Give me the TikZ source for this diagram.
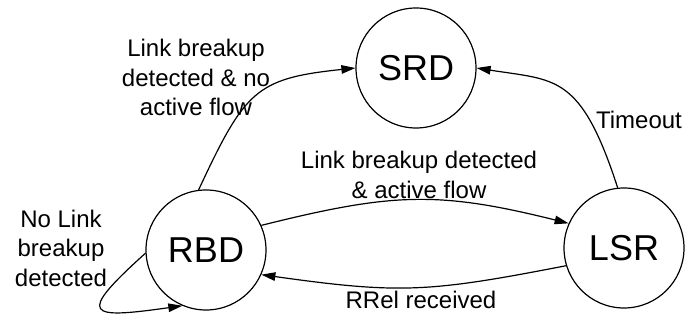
\documentclass[tikz,border=0pt]{standalone}
\usepackage{fontspec}
\setmainfont{Liberation Sans}
\usetikzlibrary{arrows.meta}
\begin{document}
\begin{tikzpicture}[x=1pt,y=1pt,
  state/.style={draw, circle, line width=1.2pt, minimum size=120pt, inner sep=0pt,
    font=\fontsize{36}{40}\selectfont},
  trans/.style={line width=1.2pt, -{Triangle[length=14pt,width=8.5pt]}},
  lbl/.style={align=center, inner sep=0pt, font=\fontsize{24}{29.5}\selectfont}]
\useasboundingbox (0,0) rectangle (685,321);
\fill[white] (0,0) rectangle (685,321);

% states
\node[state] (SRD) at (416,253) {SRD};
\node[state] (RBD) at (206,71) {RBD};
\node[state] (LSR) at (624,73) {LSR};

% transitions
\draw[trans] (RBD.97) to[out=65,in=186,out distance=110,in distance=100] (SRD.180);
\draw[trans] (LSR.96) to[out=108,in=351,out distance=120,in distance=80] (SRD.0);
\draw[trans] (RBD.24) to[out=14,in=166,distance=135] (LSR.156);
\draw[trans] (LSR.197) to[out=191,in=352,distance=140] (RBD.336);
\draw[trans] (RBD.183) to[out=222,in=188,distance=95] (RBD.247);

% transition labels
\node[lbl] (l1) at (196,243.5) {Link breakup\\detected \& no\\active flow};
\node[lbl] (l2) at (639,201) {Timeout};
\node[lbl] (l3) at (419,146) {Link breakup detected\\\& active flow};
\node[lbl] (l4) at (61,73) {No Link\\breakup\\detected};
\node[lbl] (l5) at (421,21) {RRel received};
\end{tikzpicture}
\end{document}
